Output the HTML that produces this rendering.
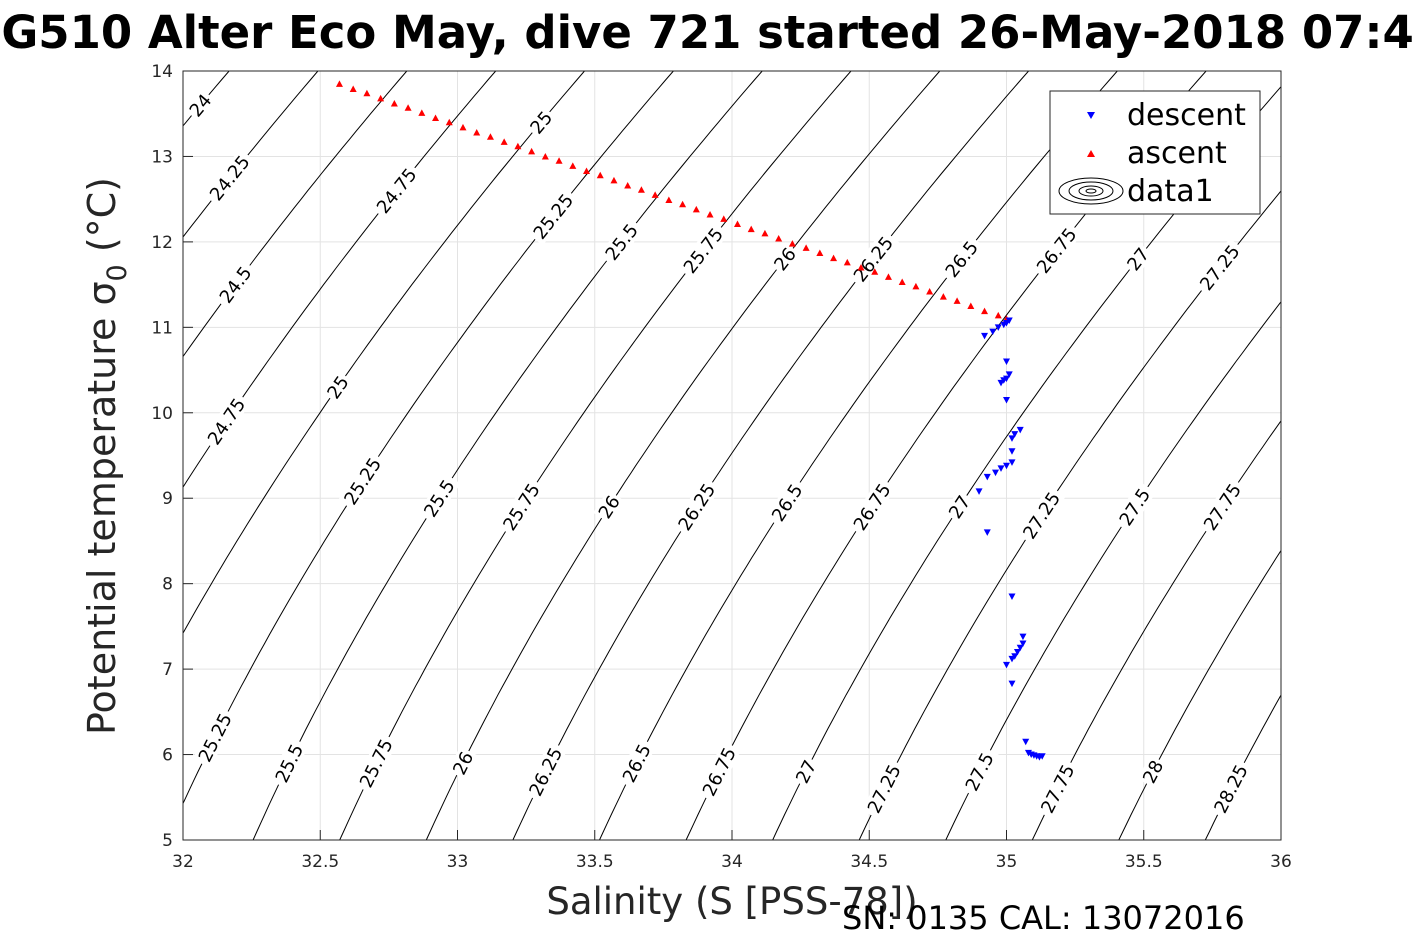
<!DOCTYPE html>
<html><head><meta charset="utf-8"><style>
html,body{margin:0;padding:0;background:#fff;overflow:hidden}
svg text{font-family:"DejaVu Sans","Liberation Sans",sans-serif}
</style></head><body>
<svg id="c" width="1417" height="945" viewBox="0 0 1417 945" xmlns="http://www.w3.org/2000/svg">
<rect width="1417" height="945" fill="#fff"/>
<text x="707" y="48" text-anchor="middle" font-size="45" font-weight="bold" fill="#000">SG510 Alter Eco May, dive 721 started 26-May-2018 07:45</text>
<g id="grid"></g>
<g id="contours"></g>
<g id="labels"></g>
<g id="series"></g>
<rect x="183" y="71" width="1098" height="769" fill="none" stroke="#262626" stroke-width="1"/>
<g id="ticks"></g>
<text x="732" y="914" text-anchor="middle" font-size="37" fill="#262626">Salinity (S [PSS-78])</text>
<text transform="translate(115,456) rotate(-90)" text-anchor="middle" font-size="38" fill="#262626">Potential temperature σ<tspan font-size="27" dy="11">0</tspan><tspan dy="-11"> (°C)</tspan></text>
<text x="842" y="929" font-size="32" fill="#000">SN: 0135  CAL: 13072016</text>
<g>
<rect x="1050" y="91" width="210" height="123" fill="#fff" stroke="#262626" stroke-width="1"/>
<g><path d="M1087,112 L1095,112 L1091,119 Z" fill="#00f"/><text x="1127" y="125" font-size="30" fill="#000">descent</text></g>
<g><path d="M1087,157 L1095,157 L1091,150 Z" fill="#f00"/><text x="1127" y="163" font-size="30" fill="#000">ascent</text></g>
<g fill="none" stroke="#000" stroke-width="1"><ellipse cx="1091" cy="191" rx="32" ry="13"/><ellipse cx="1091" cy="191" rx="22" ry="9"/><ellipse cx="1091" cy="191" rx="12" ry="5"/><ellipse cx="1091" cy="191" rx="5" ry="2"/><text x="1127" y="201" font-size="30" fill="#000" stroke="none">data1</text></g>
</g>
</svg>
<script>
const xTicks=[32,32.5,33,33.5,34,34.5,35,35.5,36];
const yTicks=[5,6,7,8,9,10,11,12,13,14];
const levels=[24,24.25,24.5,24.75,25,25.25,25.5,25.75,26,26.25,26.5,26.75,27,27.25,27.5,27.75,28,28.25];
const labelLevels=[24,24.25,24.5,24.75,24.75,25,25,25,25.25,25.25,25.25,25.5,25.5,25.5,25.75,25.75,25.75,26,26,26,26.25,26.25,26.25,26.5,26.5,26.5,26.75,26.75,26.75,27,27,27,27.25,27.25,27.25,27.5,27.5,27.75,27.75,28,28.25];
const labelTemps=[13.6,12.75,11.5,12.6,9.9,13.4,10.3,7.5,12.3,9.2,6.2,12.0,9.0,5.9,11.9,8.9,5.9,11.8,8.9,5.9,11.8,8.9,5.8,11.8,8.95,5.9,11.9,8.9,5.8,11.8,8.9,5.8,11.7,8.8,5.6,8.9,5.8,8.9,5.6,5.8,5.6];
const ascentS=[32.57,32.62,32.67,32.72,32.77,32.82,32.87,32.92,32.97,33.02,33.07,33.12,33.17,33.22,33.27,33.32,33.37,33.42,33.47,33.52,33.57,33.62,33.67,33.72,33.77,33.82,33.87,33.92,33.97,34.02,34.07,34.12,34.17,34.22,34.27,34.32,34.37,34.42,34.47,34.52,34.57,34.62,34.67,34.72,34.77,34.82,34.87,34.92,34.97,35.00];
const ascentT=[13.85,13.79,13.74,13.68,13.62,13.57,13.51,13.45,13.40,13.34,13.28,13.23,13.17,13.12,13.06,13.00,12.95,12.89,12.83,12.78,12.72,12.66,12.61,12.55,12.49,12.44,12.38,12.32,12.27,12.21,12.15,12.10,12.04,11.98,11.93,11.87,11.81,11.76,11.70,11.65,11.59,11.53,11.48,11.42,11.36,11.31,11.25,11.19,11.14,11.10];
const descentS=[35.01,35.0,34.99,34.97,34.95,34.92,35.0,35.01,35.0,34.98,34.99,35.0,35.05,35.03,35.02,35.02,35.02,35.0,34.98,34.96,34.93,34.9,34.93,35.02,35.06,35.06,35.05,35.04,35.03,35.02,35.0,35.02,35.07,35.08,35.09,35.1,35.11,35.12,35.13];
const descentT=[11.08,11.05,11.03,11.0,10.95,10.9,10.6,10.45,10.4,10.35,10.38,10.15,9.8,9.75,9.7,9.55,9.42,9.38,9.35,9.3,9.25,9.08,8.6,7.85,7.38,7.3,7.25,7.2,7.15,7.12,7.05,6.83,6.15,6.02,6.0,5.99,5.98,5.97,5.98];

const NS='http://www.w3.org/2000/svg';
const X0=183,X1=1281,Y0=840,Y1=71,SMIN=32,SMAX=36,TMIN=5,TMAX=14;
const xs=s=>X0+(s-SMIN)/(SMAX-SMIN)*(X1-X0);
const ys=t=>Y0-(t-TMIN)/(TMAX-TMIN)*(Y0-Y1);
function mk(tag,attrs,parent){const e=document.createElementNS(NS,tag);for(const k in attrs)e.setAttribute(k,attrs[k]);parent.appendChild(e);return e;}
function sigma(S,T){
 const rw=999.842594+6.793952e-2*T-9.095290e-3*T*T+1.001685e-4*T**3-1.120083e-6*T**4+6.536332e-9*T**5;
 const B=8.24493e-1-4.0899e-3*T+7.6438e-5*T*T-8.2467e-7*T**3+5.3875e-9*T**4;
 const C=-5.72466e-3+1.0227e-4*T-1.6546e-6*T*T;
 return rw+B*S+C*Math.pow(S,1.5)+4.8314e-4*S*S-1000;}
function solveS(lev,T){let a=25,b=45;for(let i=0;i<50;i++){const m=(a+b)/2;if(sigma(m,T)<lev)a=m;else b=m;}return (a+b)/2;}

const grid=document.getElementById('grid'),ticks=document.getElementById('ticks');
xTicks.forEach(v=>{const x=xs(v);
 const g=mk('line',{x1:x,x2:x,y1:Y1,y2:Y0,stroke:'#e3e3e3','stroke-width':1},grid);
 
 mk('line',{x1:x,x2:x,y1:Y0,y2:Y0-10,stroke:'#262626'},ticks);
 const t=mk('text',{x:x,y:Y0+27,'text-anchor':'middle','font-size':17,fill:'#262626'},ticks);t.textContent=v;
 });
yTicks.forEach(v=>{const y=ys(v);
 const g=mk('line',{x1:X0,x2:X1,y1:y,y2:y,stroke:'#e3e3e3','stroke-width':1},grid);
 
 mk('line',{x1:X0,x2:X0+10,y1:y,y2:y,stroke:'#262626'},ticks);
 const t=mk('text',{x:X0-10,y:y+6,'text-anchor':'end','font-size':17,fill:'#262626'},ticks);t.textContent=v;
 });

const cg=document.getElementById('contours');
const defs=mk('defs',{},document.getElementById('c'));
const cp=mk('clipPath',{id:'clip'},defs);mk('rect',{x:X0,y:Y1,width:X1-X0,height:Y0-Y1},cp);
cg.setAttribute('clip-path','url(#clip)');
levels.forEach(lev=>{let d='';
 for(let T=TMIN-0.5;T<=TMAX+0.5;T+=0.1){const S=solveS(lev,T);d+=(d?'L':'M')+xs(S).toFixed(1)+','+ys(T).toFixed(1);}
 const p=mk('path',{d:d,fill:'none',stroke:'#000','stroke-width':1},cg);
 });

const lg=document.getElementById('labels');
labelLevels.forEach((lev,i)=>{const T=labelTemps[i];const S=solveS(lev,T);
 const x=xs(S),y=ys(T);
 const x2=xs(solveS(lev,T+0.2)),y2=ys(T+0.2);
 if(x<X0+5||x>X1-5)return;
 const ang=Math.atan2(y2-y,x2-x)*180/Math.PI;
 const g=mk('g',{transform:`translate(${x.toFixed(1)},${y.toFixed(1)}) rotate(${ang.toFixed(1)})`},lg);
 
 const str=String(lev);const w=str.length*10.5+6;
 mk('rect',{x:-w/2,y:-10,width:w,height:20,fill:'#fff'},g);
 const t=mk('text',{x:0,y:6.5,'text-anchor':'middle','font-size':18,fill:'#000'},g);t.textContent=str;});

const sg=document.getElementById('series');
ascentS.forEach((s,i)=>{const x=xs(s),y=ys(ascentT[i]);
 const p=mk('path',{d:`M${x-3.5},${y+3} L${x+3.5},${y+3} L${x},${y-3.5} Z`,fill:'#f00'},sg);
 });
descentS.forEach((s,i)=>{const x=xs(s),y=ys(descentT[i]);
 const p=mk('path',{d:`M${x-3.5},${y-3} L${x+3.5},${y-3} L${x},${y+3.5} Z`,fill:'#00f'},sg);
 });
</script>
</body></html>
